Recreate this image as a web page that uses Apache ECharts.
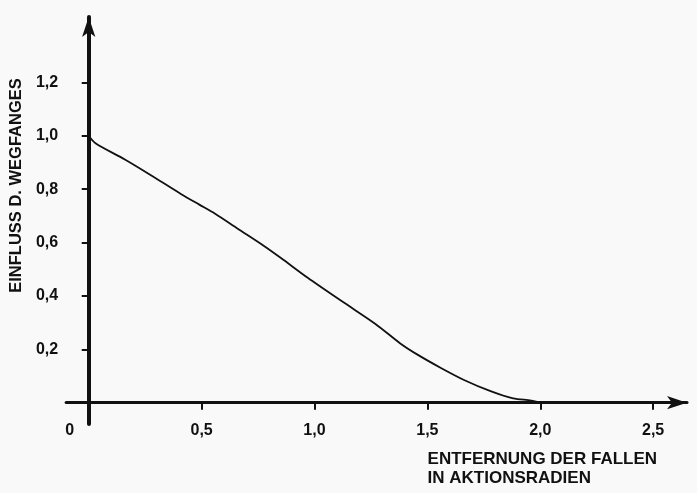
<!DOCTYPE html>
<html>
<head>
<meta charset="utf-8">
<script src="https://cdn.jsdelivr.net/npm/echarts@6/dist/echarts.min.js"></script>
<style>
html,body{margin:0;padding:0;background:#f9f9f9;}
#c{width:697px;height:493px;}
</style>
</head>
<body>
<div id="c"></div>
<script>
// Distance of traps (in action radii)
const xValues = [0, 0.03, 0.16, 0.27, 0.41, 0.49, 0.56, 0.66, 0.77, 0.85, 0.97, 1.13, 1.27, 1.38, 1.46, 1.56, 1.66, 1.78, 1.88, 1.96, 2.0];
// Influence of removal
const yValues = [1.0, 0.972, 0.911, 0.855, 0.781, 0.742, 0.708, 0.652, 0.591, 0.543, 0.468, 0.375, 0.295, 0.222, 0.178, 0.130, 0.086, 0.043, 0.016, 0.008, 0.0];
const xTicks = [0, 0.5, 1.0, 1.5, 2.0, 2.5];
const yTicks = [0.2, 0.4, 0.6, 0.8, 1.0, 1.2];
const xTitle = 'ENTFERNUNG DER FALLEN\nIN AKTIONSRADIEN';
const yTitle = 'EINFLUSS D. WEGFANGES';

const fmt = v => v.toFixed(1).replace('.', ',');
const FONT = '"Liberation Sans", Arial, sans-serif';
const INK = '#111';

const chart = echarts.init(document.getElementById('c'), null, {renderer: 'canvas'});
chart.setOption({
  backgroundColor: '#f9f9f9',
  animation: false,
  grid: {left: 64, right: 10, top: 17, bottom: 63, containLabel: false},
  xAxis: {
    type: 'value',
    min: -0.1,
    max: 2.65,
    name: xTitle,
    nameLocation: 'middle',
    nameGap: 26,
    nameTextStyle: {
      color: INK, fontFamily: FONT, fontWeight: 'bold', fontSize: 17,
      lineHeight: 19, align: 'left', padding: [0, 0, 0, 51]
    },
    axisLine: {
      onZero: true, symbol: ['none', 'arrow'], symbolSize: [10, 20],
      lineStyle: {color: INK, width: 3}
    },
    axisTick: {show: true, inside: false, length: 7, customValues: xTicks.slice(1), lineStyle: {color: INK, width: 2}},
    axisLabel: {
      customValues: xTicks,
      margin: -1,
      color: INK, fontFamily: FONT, fontWeight: 'bold', fontSize: 16,
      formatter: v => v === 0 ? '{z|0}' : fmt(v),
      rich: {z: {padding: [0, 38, 0, 0], color: INK, fontFamily: FONT, fontWeight: 'bold', fontSize: 16}}
    },
    splitLine: {show: false}
  },
  yAxis: {
    type: 'value',
    min: -0.08,
    max: 1.445,
    name: yTitle,
    nameLocation: 'middle',
    nameRotate: 90,
    nameGap: 35,
    nameTextStyle: {
      color: INK, fontFamily: FONT, fontWeight: 'bold', fontSize: 16.5,
      padding: [0, 0, 0, 70]
    },
    axisLine: {
      onZero: true, symbol: ['none', 'arrow'], symbolSize: [10, 20],
      lineStyle: {color: INK, width: 4}
    },
    axisTick: {show: true, inside: false, length: 7, customValues: yTicks, lineStyle: {color: INK, width: 2}},
    axisLabel: {
      customValues: yTicks,
      margin: 8,
      color: INK, fontFamily: FONT, fontWeight: 'bold', fontSize: 16,
      formatter: v => fmt(v)
    },
    splitLine: {show: false}
  },
  series: [{
    type: 'line',
    data: xValues.map((x, i) => [x, yValues[i]]),
    smooth: 0.3,
    showSymbol: false,
    lineStyle: {color: INK, width: 1.8},
    z: 1
  }]
});
</script>
</body>
</html>
